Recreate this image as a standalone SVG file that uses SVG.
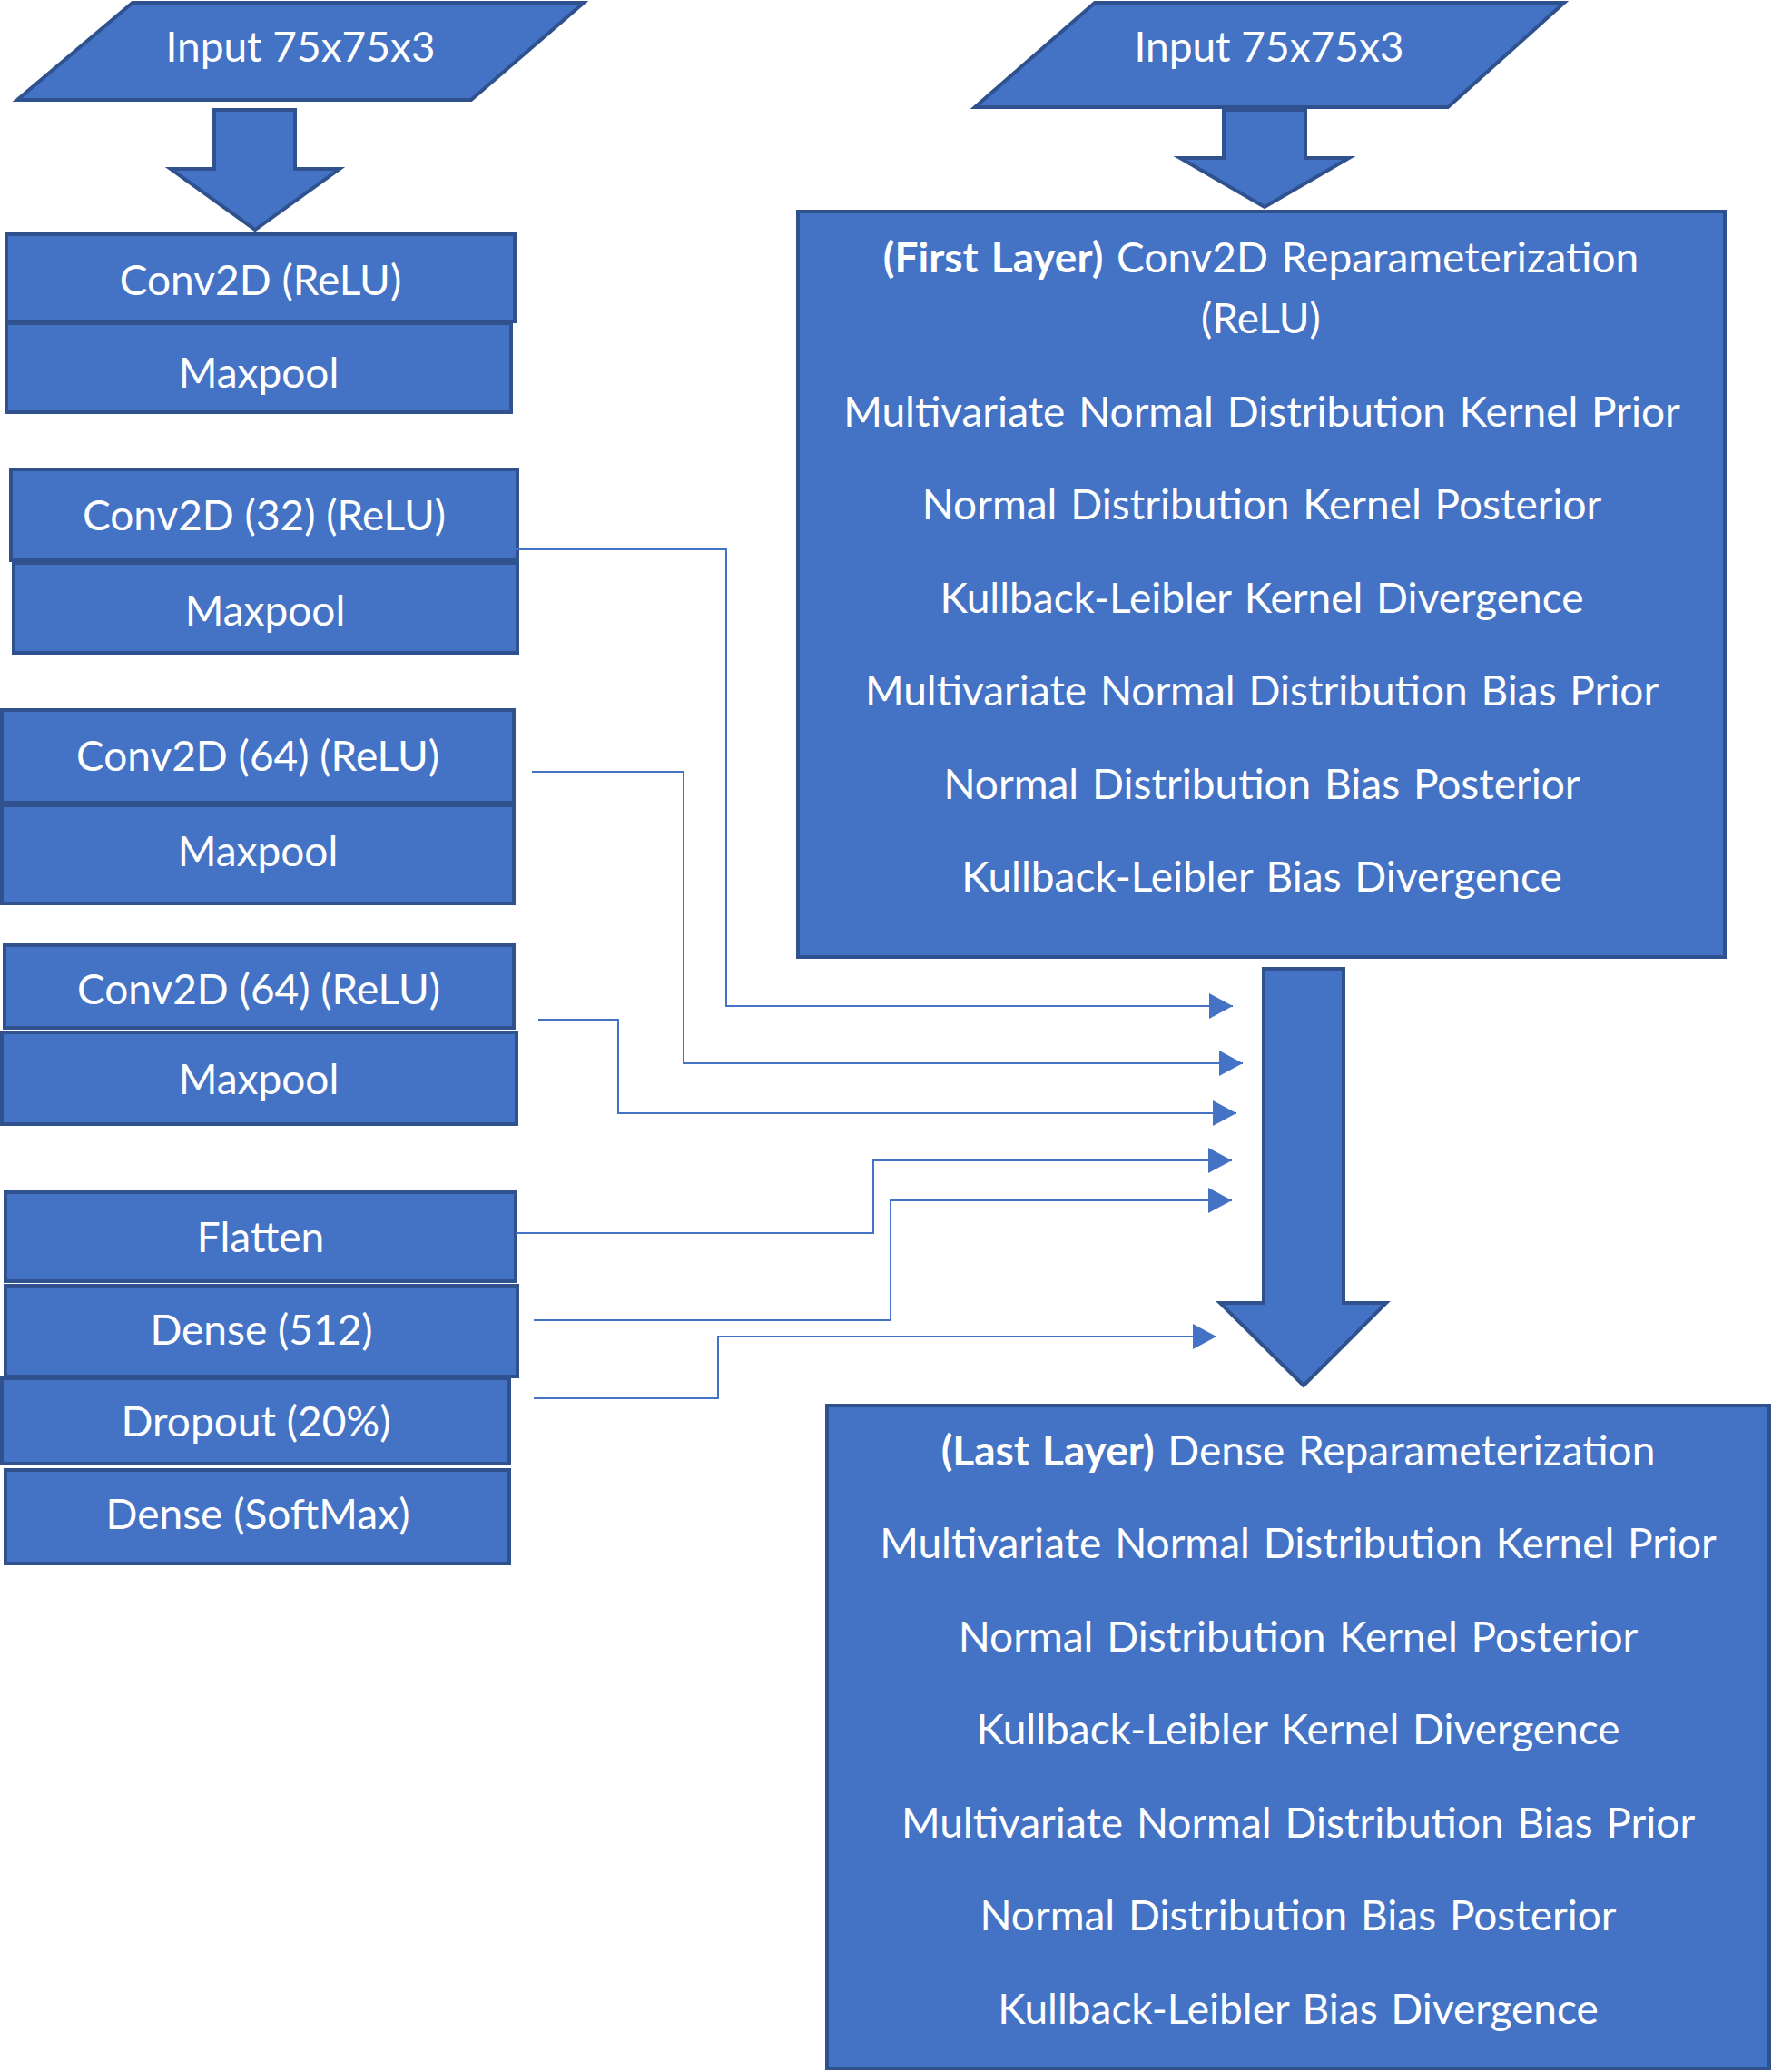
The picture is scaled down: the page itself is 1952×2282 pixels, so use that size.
<svg xmlns="http://www.w3.org/2000/svg" width="1952" height="2282" viewBox="0 0 1952 2282">
<style>
.shape{fill:#4472C4;stroke:#2F528F;stroke-width:4}
.t{font-family:Lato,"Open Sans","Liberation Sans",sans-serif;font-size:46px;fill:#FFFFFF;text-anchor:middle}
.w{word-spacing:3px}
.b{font-weight:bold}
.conn{fill:none;stroke:#4472C4;stroke-width:2}
</style>
<defs>
<marker id="ah" markerUnits="userSpaceOnUse" markerWidth="26" markerHeight="28" refX="26" refY="14" orient="auto">
<path d="M0,0 L26,14 L0,28 Z" fill="#4472C4"/>
</marker>
</defs>
<rect width="1952" height="2282" fill="#FFFFFF"/>

<g id="input-left">
<polygon class="shape" points="146,3 643,3 519,110 19,110"/>
<text class="t" x="331" y="68">Input 75x75x3</text>
</g>
<g id="arrow-left">
<path class="shape" d="M236,121 H325 V186 H374 L281,253 L188,186 H236 Z"/>
</g>
<g id="conv1">
<rect class="shape" x="7" y="258" width="560" height="96"/>
<text class="t" x="287" y="325">Conv2D (ReLU)</text>
</g>
<g id="pool1">
<rect class="shape" x="7" y="356" width="556" height="98"/>
<text class="t" x="285" y="427">Maxpool</text>
</g>
<g id="conv2">
<rect class="shape" x="12" y="517" width="558" height="100"/>
<text class="t" x="291" y="584">Conv2D (32) (ReLU)</text>
</g>
<g id="pool2">
<rect class="shape" x="15" y="620" width="555" height="99"/>
<text class="t" x="292" y="689">Maxpool</text>
</g>
<g id="conv3">
<rect class="shape" x="2" y="782" width="564" height="102"/>
<text class="t" x="284" y="849">Conv2D (64) (ReLU)</text>
</g>
<g id="pool3">
<rect class="shape" x="2" y="887" width="564" height="108"/>
<text class="t" x="284" y="954">Maxpool</text>
</g>
<g id="conv4">
<rect class="shape" x="5" y="1041" width="561" height="91"/>
<text class="t" x="285" y="1106">Conv2D (64) (ReLU)</text>
</g>
<g id="pool4">
<rect class="shape" x="2" y="1137" width="567" height="101"/>
<text class="t" x="285" y="1205">Maxpool</text>
</g>
<g id="flatten">
<rect class="shape" x="6" y="1313" width="562" height="98"/>
<text class="t" x="287" y="1379">Flatten</text>
</g>
<g id="dense512">
<rect class="shape" x="6" y="1416" width="564" height="100"/>
<text class="t" x="288" y="1481">Dense (512)</text>
</g>
<g id="dropout">
<rect class="shape" x="2" y="1518" width="559" height="94"/>
<text class="t" x="282" y="1582">Dropout (20%)</text>
</g>
<g id="dense-softmax">
<rect class="shape" x="6" y="1619" width="555" height="103"/>
<text class="t" x="284" y="1684">Dense (SoftMax)</text>
</g>

<g id="input-right">
<polygon class="shape" points="1206,3 1723,3 1595,118 1074,118"/>
<text class="t" x="1398" y="68">Input 75x75x3</text>
</g>
<g id="arrow-right">
<path class="shape" d="M1348,121 H1438 V174 H1486 L1393,228 L1300,174 H1348 Z"/>
</g>
<g id="first-layer">
<rect class="shape" x="879" y="233" width="1021" height="821"/>
<text class="t w" x="1389" y="300"><tspan class="b">(First Layer)</tspan> Conv2D Reparameterization</text>
<text class="t w" x="1389" y="367">(ReLU)</text>
<text class="t w" x="1390" y="470">Multivariate Normal Distribution Kernel Prior</text>
<text class="t w" x="1390" y="572">Normal Distribution Kernel Posterior</text>
<text class="t w" x="1390" y="675">Kullback-Leibler Kernel Divergence</text>
<text class="t w" x="1390" y="777">Multivariate Normal Distribution Bias Prior</text>
<text class="t w" x="1390" y="880">Normal Distribution Bias Posterior</text>
<text class="t w" x="1390" y="982">Kullback-Leibler Bias Divergence</text>
</g>
<g id="arrow-middle">
<path class="shape" d="M1392,1067 H1480 V1435 H1527 L1436,1526 L1344,1435 H1392 Z"/>
</g>
<g id="last-layer">
<rect class="shape" x="911" y="1548" width="1038" height="730"/>
<text class="t w" x="1430" y="1614"><tspan class="b">(Last Layer)</tspan> Dense Reparameterization</text>
<text class="t w" x="1430" y="1716">Multivariate Normal Distribution Kernel Prior</text>
<text class="t w" x="1430" y="1819">Normal Distribution Kernel Posterior</text>
<text class="t w" x="1430" y="1921">Kullback-Leibler Kernel Divergence</text>
<text class="t w" x="1430" y="2024">Multivariate Normal Distribution Bias Prior</text>
<text class="t w" x="1430" y="2126">Normal Distribution Bias Posterior</text>
<text class="t w" x="1430" y="2229">Kullback-Leibler Bias Divergence</text>
</g>

<g id="connectors">
<path class="conn" marker-end="url(#ah)" d="M568,605 H800 V1108 H1358"/>
<path class="conn" marker-end="url(#ah)" d="M586,850 H753 V1171 H1369"/>
<path class="conn" marker-end="url(#ah)" d="M593,1123 H681 V1226 H1362"/>
<path class="conn" marker-end="url(#ah)" d="M568,1358 H962 V1278 H1357"/>
<path class="conn" marker-end="url(#ah)" d="M588,1454 H981 V1322 H1357"/>
<path class="conn" marker-end="url(#ah)" d="M588,1540 H791 V1472 H1340"/>
</g>
</svg>
